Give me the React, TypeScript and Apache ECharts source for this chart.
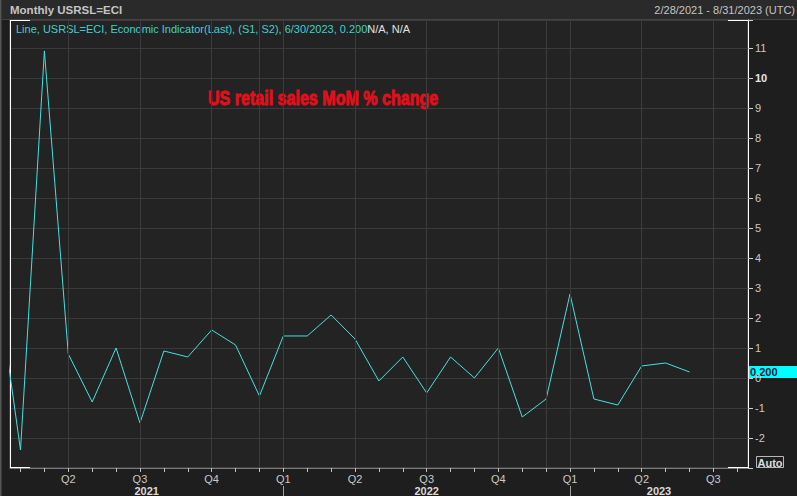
import React, { useEffect, useRef } from 'react';
import * as echarts from 'echarts';

// ---- data ----
const periods = [
  '2021-01', '2021-02', '2021-03', '2021-04', '2021-05', '2021-06', '2021-07', '2021-08', '2021-09', '2021-10', '2021-11', '2021-12',
  '2022-01', '2022-02', '2022-03', '2022-04', '2022-05', '2022-06', '2022-07', '2022-08', '2022-09', '2022-10', '2022-11', '2022-12',
  '2023-01', '2023-02', '2023-03', '2023-04', '2023-05', '2023-06',
];
const retailMoM = [
  3.3, -2.4, 10.9, 0.8, -0.8, 1.0, -1.5, 0.9, 0.7, 1.6, 1.1, -0.6,
  1.4, 1.4, 2.1, 1.3, -0.1, 0.7, -0.5, 0.7, 0.0, 1.0, -1.3, -0.7,
  2.8, -0.7, -0.9, 0.4, 0.5, 0.2,
];
const yTickLabels = [-2, -1, 0, 1, 2, 3, 4, 5, 6, 7, 8, 9, 10, 11];
const quarterStarts = ['2021-04', '2021-07', '2021-10', '2022-01', '2022-04', '2022-07', '2022-10', '2023-01', '2023-04', '2023-07'];
const quarterLabels = ['Q2', 'Q3', 'Q4', 'Q1', 'Q2', 'Q3', 'Q4', 'Q1', 'Q2', 'Q3'];
const extraGridMonths = ['2021-12', '2022-12'];
const years = ['2021', '2022', '2023'];
const yearStarts = ['2021-01', '2022-01', '2023-01'];
const lastValueLabel = '0.200';

const toM = (s: string) => {
  const [y, m] = s.split('-').map(Number);
  return (y - 2021) * 12 + (m - 1);
};

const X_MIN = 0.56;
const X_MAX = 31.45;
const Y_MIN = -3;
const Y_MAX = 11.93;
const FONT = '"Liberation Sans", Arial, sans-serif';

export default function App() {
  const ref = useRef<HTMLDivElement>(null);
  useEffect(() => {
    if (!ref.current) return;
    const chart = echarts.init(ref.current, null, { renderer: 'svg' });
    const seriesData = periods.map((p, i) => [toM(p), retailMoM[i]]);
    const quarterVals = quarterStarts.map(toM);
    const monthTicks: number[] = [];
    for (let m = Math.ceil(X_MIN); m <= Math.floor(X_MAX); m++) monthTicks.push(m);
    const verticals = [...quarterVals, ...extraGridMonths.map(toM)];

    chart.setOption({
      animation: false,
      backgroundColor: '#1e1e1e',
      grid: {
        left: 10, right: 49, top: 20, bottom: 28,
        show: true, backgroundColor: '#232323', borderColor: '#5e5e5e', borderWidth: 1,
      },
      xAxis: {
        type: 'value', min: X_MIN, max: X_MAX,
        axisLine: { show: true, onZero: false, lineStyle: { color: '#7a7a7a', width: 1 } },
        axisTick: { show: true, customValues: monthTicks, length: 4, lineStyle: { color: '#c0c0c0' } },
        axisLabel: {
          customValues: quarterVals, color: '#c8c8c8', fontSize: 11, fontFamily: FONT, margin: 5,
          formatter: (v: number) => {
            const i = quarterVals.indexOf(Math.round(v));
            return i >= 0 ? quarterLabels[i] : '';
          },
        },
        splitLine: { show: false },
      },
      yAxis: {
        type: 'value', position: 'right', min: Y_MIN, max: Y_MAX, interval: 1,
        axisLine: { show: true, onZero: false, lineStyle: { color: '#ffffff', width: 1 } },
        axisTick: { show: true, length: 5, lineStyle: { color: '#cfcfcf' } },
        axisLabel: {
          customValues: yTickLabels, color: '#c8c8c8', fontSize: 11, fontFamily: FONT, margin: 7,
          formatter: (v: number) => (v === 10 ? '{b|10}' : String(v)),
          rich: { b: { fontWeight: 'bold', color: '#e6e6e6', fontSize: 11, fontFamily: FONT } },
        },
        splitLine: { show: true, lineStyle: { color: '#3a3a3a', width: 1 } },
      },
      series: [
        {
          type: 'line', data: [], z: 1, silent: true,
          markLine: {
            silent: true, symbol: 'none', label: { show: false },
            lineStyle: { color: '#3c3c3c', type: 'solid', width: 1 },
            data: verticals.map((m) => ({ xAxis: m })),
          },
        },
        {
          type: 'line', data: seriesData, z: 3, showSymbol: false, clip: true,
          lineStyle: { color: '#40e2e2', width: 1 },
        },
      ],
    });

    const px = (m: number) => chart.convertToPixel({ xAxisIndex: 0 }, m) as number;
    const py = (v: number) => chart.convertToPixel({ yAxisIndex: 0 }, v) as number;
    const yLast = py(retailMoM[retailMoM.length - 1]);
    const yBottom = py(Y_MIN);
    const yTop = py(Y_MAX);
    const xLeft = px(X_MIN);
    const xRight = px(X_MAX);

    const yearSpans = yearStarts.map((s, i) => {
      const a = Math.max(toM(s), X_MIN);
      const b = Math.min(toM(s) + 12, X_MAX);
      return { text: years[i], x: (px(a) + px(b)) / 2 };
    });

    const graphic: any[] = [
      { type: 'rect', shape: { x: 0, y: 0, width: 797, height: 19 }, style: { fill: '#2a2a2a' }, z: 0 },
      { type: 'line', shape: { x1: 0, y1: 19.5, x2: 797, y2: 19.5 }, style: { stroke: '#444', lineWidth: 1 } },
      { type: 'line', shape: { x1: 0.5, y1: 0, x2: 0.5, y2: 496 }, style: { stroke: '#555', lineWidth: 1 } },
      { type: 'line', shape: { x1: 1.5, y1: 0, x2: 1.5, y2: 496 }, style: { stroke: '#3a3a3a', lineWidth: 1 } },
      {
        type: 'text', x: 10, y: 10,
        style: { text: 'Monthly USRSL=ECI', fill: '#c4c4c4', font: `bold 11.5px ${FONT}`, textVerticalAlign: 'middle' },
      },
      {
        type: 'text', x: 795, y: 10,
        style: { text: '2/28/2021 - 8/31/2023 (UTC)', fill: '#c4c4c4', font: `11px ${FONT}`, textAlign: 'right', textVerticalAlign: 'middle' },
      },
      {
        type: 'text', x: 16, y: 29,
        style: {
          text: '{c|Line, USRSL=ECI, Economic Indicator(Last), (S1, S2), 6/30/2023, 0.200}{w|N/A, N/A}',
          textVerticalAlign: 'middle',
          rich: {
            c: { fill: '#3fcfcf', font: `11px ${FONT}` },
            w: { fill: '#e0e0e0', font: `11px ${FONT}` },
          },
        },
      },
      {
        type: 'text', x: 208, y: 98, scaleX: 0.765,
        style: {
          text: 'US retail sales MoM % change', fill: '#e3101c', font: `bold 21px ${FONT}`,
          textVerticalAlign: 'middle', stroke: '#e3101c', lineWidth: 0.9,
        },
      },
      // white frame corners
      { type: 'line', shape: { x1: xLeft + 0.5, y1: yTop, x2: xLeft + 0.5, y2: yBottom }, style: { stroke: '#ffffff', lineWidth: 1 } },
      { type: 'line', shape: { x1: xLeft, y1: yTop + 0.5, x2: xLeft + 20, y2: yTop + 0.5 }, style: { stroke: '#ffffff', lineWidth: 1 } },
      { type: 'line', shape: { x1: xLeft, y1: yBottom - 0.5, x2: xLeft + 20, y2: yBottom - 0.5 }, style: { stroke: '#ffffff', lineWidth: 1 } },
      { type: 'line', shape: { x1: xRight - 20, y1: yTop + 0.5, x2: xRight, y2: yTop + 0.5 }, style: { stroke: '#ffffff', lineWidth: 1 } },
      { type: 'line', shape: { x1: xRight - 20, y1: yBottom - 0.5, x2: xRight, y2: yBottom - 0.5 }, style: { stroke: '#ffffff', lineWidth: 1 } },
      // last value tag
      { type: 'rect', shape: { x: xRight, y: yLast - 6, width: 797 - xRight, height: 12 }, style: { fill: '#00ffff' } },
      {
        type: 'text', x: xRight + 2, y: yLast,
        style: { text: lastValueLabel, fill: '#0b1a3c', font: `bold 11px ${FONT}`, textVerticalAlign: 'middle' },
      },
      // Auto box
      { type: 'rect', shape: { x: 756.5, y: 456.5, width: 27, height: 11 }, style: { fill: 'none', stroke: '#b8b8b8', lineWidth: 1 } },
      {
        type: 'text', x: 770, y: 462.5,
        style: { text: 'Auto', fill: '#dcdcdc', font: `bold 11px ${FONT}`, textAlign: 'center', textVerticalAlign: 'middle' },
      },
      ...yearSpans.map((s) => ({
        type: 'text', x: s.x, y: 491,
        style: { text: s.text, fill: '#dadada', font: `bold 11px ${FONT}`, textAlign: 'center', textVerticalAlign: 'middle' },
      })),
      ...yearStarts.slice(1).map((s) => {
        const x = Math.round(px(toM(s))) + 0.5;
        return { type: 'line', shape: { x1: x, y1: 486, x2: x, y2: 496 }, style: { stroke: '#a0a0a0', lineWidth: 1 } };
      }),
    ];
    chart.setOption({ graphic });

    return () => chart.dispose();
  }, []);

  return <div ref={ref} style={{ position: 'absolute', left: 0, top: 0, width: 797, height: 496 }} />;
}
